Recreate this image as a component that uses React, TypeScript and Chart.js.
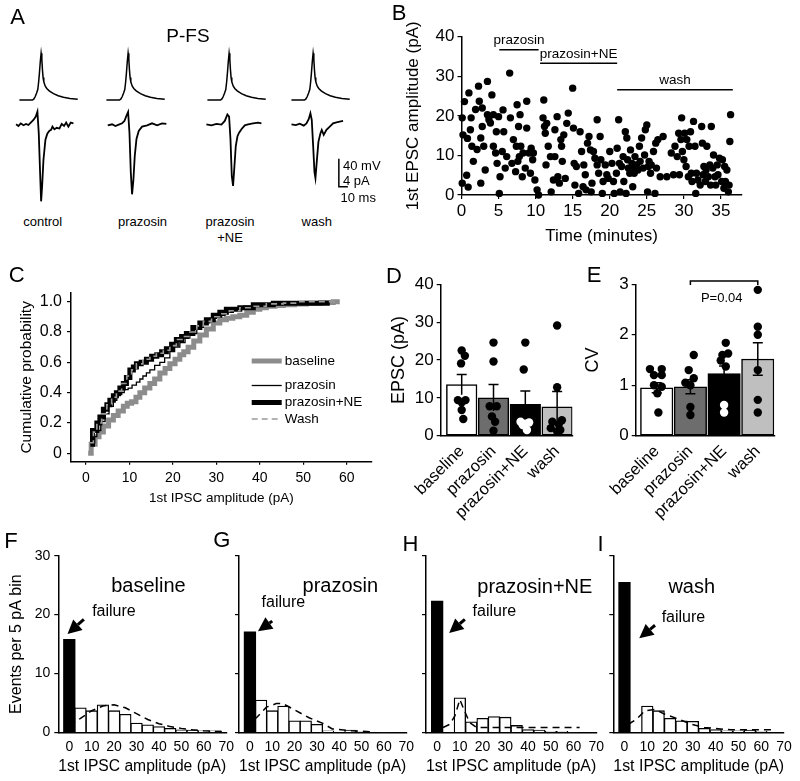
import React, { useEffect, useRef } from "react";
import { Chart, registerables } from "chart.js";

Chart.register(...registerables);

const FONT = "'Liberation Sans', Arial, Helvetica, sans-serif";
Chart.defaults.font.family = FONT;
Chart.defaults.color = "#000";

// ---------------- Panel A: example traces ----------------
const traceLabels = ["control", "prazosin", "prazosin", "wash"];
const apTime = [-24.1, -9.5, -8, -6.5, -5, -3.7, -2.8, -1.9, -0.9, 0, 0.8, 1.5, 2.2, 3, 4.5, 6.3, 9, 13.7, 19, 24.8, 32, 40.7];
const apMv = [0, 0, 1.5, 5, 10, 15, 25, 38, 55, 66.7, 58, 43, 32, 26, 20, 16.5, 13, 9, 6, 3.8, 2, 1];
const epscControlT = [-27.8, -25.2, -22.6, -19.6, -16.7, -14.1, -11.5, -8.5, -5.9, -4.1, -2.6, -1.1, 0, 1.1, 2.6, 4.8, 7, 9.3, 11.1, 12.6, 14.8, 17.4, 20.4, 22.9, 25.5, 27.8, 30.3, 32.9, 35.9];
const epscControlPa = [0, -0.24, 0.14, -0.14, 0.05, -0.1, 0.24, 0.62, 1.1, 1.8, -1.3, -7, -11, -8.9, -5.1, -2.2, -1.3, -0.9, -0.8, -0.33, -0.7, -0.5, -0.6, 0.05, -0.24, 0.24, -0.33, 0.24, 0.14];
const epscPrazT = [-22.6, -17.8, -14.1, -10.4, -6.7, -4.1, -1.9, 0, 1.5, 3, 4.4, 5.9, 7.4, 9.3, 11.8, 15.5, 21.1, 26.6, 32.2, 37.7, 42.5];
const epscPrazPa = [-0.14, 0, -0.24, -0.05, 0.14, 0.48, 1.2, 1.76, -1.2, -6.9, -10, -7.9, -4.5, -2.1, -0.95, -0.33, -0.14, 0.14, -0.14, 0.14, 0.05];
const epscNET = [-25.2, -19.6, -14.1, -8.5, -4.8, -1.9, 0, 1.5, 3, 4.4, 5.9, 7.4, 9.3, 11.1, 13.7, 17.4, 21.1, 26.6, 32.2, 35.9];
const epscNEPa = [0, -0.14, 0.05, -0.05, 0.48, 1.4, 1.1, -2.1, -7.4, -8.8, -6, -3.1, -1.7, -1.2, -0.7, -0.14, 0, 0.14, 0.24, 0.14];
const epscWashT = [-24, -19.2, -14.8, -10.4, -7.4, -4.8, -3, -1.5, 0, 1.5, 2.6, 4.1, 5.9, 8.1, 9.6, 11.8, 14.8, 18.5, 22.2, 25.9, 29.6, 33.3];
const epscWashPa = [0, -0.1, 0.1, -0.19, 0.14, 0.76, 1.57, 0.62, -2.95, -6.8, -7.7, -5.3, -2.5, -1.3, -0.8, -1.5, -0.8, -0.33, 0.14, 0.29, 0.38, 0.48];
const scaleBarMs = 10;
const scaleBarMv = 40;

// ---------------- Panel B: time course ----------------
const bTime = [0.1,0.2,0.4,0.1,0.7,0.9,0.8,1,1.2,1.3,1.4,1.6,1.9,2.1,2.3,2.4,2.6,2.6,2.8,2.8,3,3.2,3.5,3.5,3.7,3.9,4.1,4.3,4.3,4.6,4.7,4.8,5,5.1,5.2,5.5,5.6,5.7,5.9,6.1,6.5,6.6,6.8,7,7.3,7.4,7.5,7.6,7.7,7.8,7.9,8,8.2,8.3,8.6,8.8,8.8,9.1,9.3,9.4,9.6,9.7,9.9,10.2,10.4,11,11.1,11.2,11.3,11.4,11.5,11.7,12,12.1,12.4,12.6,12.6,12.9,13,13.2,13.4,13.5,13.6,13.8,14,14.2,14.4,15,15.1,15.2,15.3,15.5,15.8,16,16.2,16.4,16.5,16.7,16.8,17,17.2,17.4,17.5,17.6,17.8,18,18.3,18.3,18.5,18.7,18.8,19,19.1,19.4,19.6,19.8,20,20.3,20.5,20.6,20.9,21,21.2,21.3,21.4,21.6,21.8,21.9,22.1,22.2,22.3,22.4,22.5,22.7,22.8,23,23.1,23.2,23.3,23.4,23.6,23.8,24,24.1,24.3,24.5,24.7,24.8,25,25.1,25.2,25.3,25.5,25.6,25.9,26.1,26.2,26.3,26.5,26.8,27.2,27.7,28.3,28.6,28.8,29.1,29.3,29.4,29.6,29.7,29.8,30,30.1,30.3,30.4,30.6,30.7,30.9,31,31.1,31.3,31.5,31.6,31.7,31.9,32.2,32.4,32.5,32.6,32.7,32.9,33,33.1,33.3,33.5,33.6,33.7,33.9,34,34.2,34.3,34.5,34.6,34.8,35.1,35.2,35.4,35.5,35.6,35.8,36,36.1,36.2,36.3];
const bAmp = [19.5,15.2,23.6,3,5,2,14.3,25.8,16.5,19.5,12.3,8.5,21.6,11.5,27.5,23.7,14.4,3,17.3,22,12.3,6.3,28.7,20.3,19,18.2,25.3,20.3,12.3,10.6,16,8,19.8,0.4,4.6,11,21.5,16,6.8,9.7,30.8,19.5,8,14,5.9,12.3,22.8,8.5,17.3,9.7,20.3,12.3,4.6,10.6,6.8,23.7,16.9,10.6,5.5,11.8,8.9,10.6,3.8,1.3,0,19.5,24,17.3,15.6,7.6,18.1,12.3,9.7,0.8,3.8,16.5,9.7,19.8,4.6,3,14,12.3,8.5,15.2,4.2,18.1,20.7,27,16.9,8,2.5,7.2,0.4,16,11,2.1,7.6,5.1,1.3,13.1,14.8,11.4,0.8,3,11,9.3,19,7.6,5.5,14.8,8.9,0.4,3.4,7.6,5.1,4.2,11,8,3.4,0.4,5.5,11.8,19,8,0.8,7.2,9.7,3.4,16,0.4,14.4,8.9,6.8,5.5,11.4,8,2.1,7.2,5.5,9.7,7.6,6.3,12.3,8.5,14.4,6.8,10.1,16.5,17.7,0.8,7.2,8.5,5.5,7.6,11,0.4,13.1,6.8,14,4.6,14.8,4.6,10.6,5.1,12.3,9.7,15.6,5.1,14,19.5,11,8.9,15.6,7.2,14,4.6,12.3,16,5.5,3.4,18.6,12.3,0.4,5.5,3.8,2.5,17.3,13.1,5.1,7.2,3.4,6.3,12.3,4.6,7.6,2.5,17.3,6.8,10.1,4.6,2.5,7.6,5.1,9.3,3.4,8.9,1.7,7.2,3.4,6.3,0.8,2.5,13.5,20.3];
const drugLabels = ["prazosin", "prazosin+NE", "wash"];
const drugStart = [5.1, 10.6, 21.0];
const drugEnd = [10.4, 21.0, 36.6];
const drugLevel = [36.7, 33.3, 26.6];
const bTicksX = [0, 5, 10, 15, 20, 25, 30, 35];
const bTicksY = [0, 10, 20, 30, 40];

// ---------------- Panel C: cumulative distributions ----------------
const cdfBaselineX = [0.5, 1.2, 2.1, 3, 4, 5.2, 6.3, 7.4, 8.6, 9.5, 10.5, 11.5, 12.4, 13.5, 14.7, 15.8, 17, 18.2, 19.3, 20.5, 21.6, 22.5, 23.5, 24.8, 26.2, 27.7, 29.3, 30.8, 32.3, 33.8, 35.4, 37, 38.5, 40, 41.5, 43.5, 45.4, 48, 50.7, 54, 56.9, 58.4];
const cdfBaselineY = [0, 0.06, 0.11, 0.14, 0.18, 0.22, 0.25, 0.28, 0.31, 0.33, 0.34, 0.37, 0.4, 0.43, 0.46, 0.49, 0.53, 0.56, 0.59, 0.62, 0.65, 0.67, 0.7, 0.74, 0.78, 0.82, 0.86, 0.88, 0.89, 0.9, 0.91, 0.93, 0.95, 0.96, 0.97, 0.975, 0.98, 0.985, 0.99, 0.995, 1.0, 1.0];
const cdfPrazX = [1.3, 2, 2.5, 3.4, 4.4, 5.3, 6.3, 7.1, 7.9, 8.8, 9.7, 10.6, 11.6, 12.4, 13.1, 13.9, 14.7, 15.8, 17, 18.1, 19.3, 20.4, 21.6, 22.8, 23.9, 25.5, 27, 28.5, 30, 32, 33.9, 36.2, 38.5, 45.4, 55.4];
const cdfPrazY = [0.07, 0.11, 0.15, 0.21, 0.26, 0.31, 0.35, 0.38, 0.4, 0.42, 0.43, 0.45, 0.47, 0.49, 0.51, 0.53, 0.55, 0.58, 0.6, 0.63, 0.67, 0.7, 0.73, 0.76, 0.79, 0.83, 0.86, 0.89, 0.91, 0.93, 0.95, 0.97, 0.98, 0.985, 0.985];
const cdfNEX = [1.0, 1.5, 2.5, 3.2, 4, 4.8, 5.5, 6.3, 7, 7.8, 8.6, 9.3, 10.1, 10.9, 11.6, 12.7, 13.9, 15.1, 16.3, 17.4, 18.5, 19.7, 20.8, 22, 23.1, 24.6, 26.2, 27.7, 29.3, 30.8, 32.3, 35.4, 38.5, 43.1, 49.2, 56.1];
const cdfNEY = [0.06, 0.15, 0.2, 0.24, 0.29, 0.32, 0.35, 0.38, 0.4, 0.43, 0.46, 0.5, 0.55, 0.57, 0.59, 0.6, 0.62, 0.64, 0.65, 0.67, 0.69, 0.72, 0.75, 0.77, 0.79, 0.83, 0.86, 0.88, 0.91, 0.93, 0.95, 0.96, 0.98, 0.99, 0.99, 0.99];
const cdfWashX = [0.9, 1.7, 2.5, 3.6, 4.8, 5.9, 7, 8.2, 9.4, 10.5, 11.6, 13.1, 14.7, 16.2, 17.8, 19.3, 20.8, 22.3, 23.9, 25.5, 27, 28.9, 30.8, 33, 35.4, 38.5, 41.5, 45.4, 49.2, 54, 58];
const cdfWashY = [0.07, 0.14, 0.2, 0.26, 0.32, 0.37, 0.41, 0.46, 0.51, 0.55, 0.59, 0.62, 0.64, 0.66, 0.68, 0.71, 0.75, 0.77, 0.8, 0.84, 0.87, 0.9, 0.92, 0.94, 0.96, 0.97, 0.985, 0.99, 1.0, 1.0, 1.0];
const cdfLegend = ["baseline", "prazosin", "prazosin+NE", "Wash"];
const cTicksX = [0, 10, 20, 30, 40, 50, 60];
const cTicksY = [0, 0.2, 0.4, 0.6, 0.8, 1.0];

// ---------------- Panels D, E: summary bars ----------------
const conditions = ["baseline", "prazosin", "prazosin+NE", "wash"];
const epscMean = [13.5, 10.0, 8.3, 7.6];
const epscSem = [2.7, 3.5, 3.5, 4.1];
const epscCellsBaseline = [22.5, 21.1, 19.1, 9.4, 9.4, 8.8, 6.8, 4.4];
const epscCellsPraz = [24.6, 19.6, 7.8, 7.8, 5.1, 3.7, 1.3];
const epscCellsNE = [24.6, 17.5, 3.7, 3.5, 3.2, 2.8, 1.5];
const epscCellsWash = [29.1, 12.8, 4.1, 3.7, 3.0, 2.0, 1.5, 1.1];
const epscJitter = [
  [0, 0.1, -0.02, -0.12, 0.12, 0, 0, 0.05],
  [0, 0, -0.12, 0.1, -0.05, 0.05, 0],
  [0, -0.05, -0.15, 0.12, 0, -0.08, 0.05],
  [0, 0, 0.15, -0.15, 0.05, -0.2, 0.1, 0],
];
const cvMean = [0.95, 0.97, 1.23, 1.52];
const cvSem = [0.1, 0.14, 0.15, 0.32];
const cvCellsBaseline = [1.32, 1.32, 1.2, 1.2, 1.0, 0.97, 0.84, 0.46];
const cvCellsPraz = [1.6, 1.3, 1.14, 1.05, 1.0, 0.57, 0.41];
const cvCellsNE = [1.84, 1.63, 1.6, 1.49, 1.37, 0.61, 0.46];
const cvCellsWash = [2.89, 2.16, 2.0, 1.3, 0.71, 0.46];
const cvJitter = [
  [-0.2, 0.15, -0.08, 0.15, -0.08, 0.15, 0.02, 0.05],
  [0.1, -0.05, 0.1, -0.15, 0, 0, 0],
  [0.05, 0.12, -0.05, -0.1, 0.05, 0, 0],
  [0, 0, 0, 0, 0, 0],
];
const dTicksY = [0, 10, 20, 30, 40];
const eTicksY = [0, 1, 2, 3];
const pValueText = "P=0.04";

// ---------------- Panels F-I: histograms ----------------
const histBinCenters = [5, 10, 15, 20, 25, 30, 35, 40, 45, 50, 55, 60, 65];
const histTicksX = [0, 10, 20, 30, 40, 50, 60, 70];
const histTicksY = [0, 10, 20, 30];
const failBaseline = 15.8;
const failPraz = 17.1;
const failNE = 22.3;
const failWash = 25.5;
const countsBaseline = [4.2, 3.7, 4.7, 3.7, 3.1, 1.6, 1.3, 1.0, 0.7, 0.45, 0.4, 0.28, 0.28];
const countsPraz = [5.5, 3.7, 4.5, 2.0, 2.0, 1.4, 0.3, 0, 0.4, 0.2, 0, 0.1, 0];
const countsNE = [0, 5.9, 1.8, 2.4, 2.7, 2.6, 1.2, 0.5, 0.4, 0.2, 0.2, 0.1, 0];
const countsWash = [0, 4.5, 3.7, 2.4, 2.0, 1.9, 0.7, 0.5, 0.3, 0.3, 0.4, 0.2, 0];
const fitBaselineX = [0, 5, 10, 15, 20, 25, 30, 35, 40, 45, 50, 55, 60, 65, 70];
const fitBaselineY = [1.1, 2.4, 3.7, 4.5, 4.7, 4.2, 3.2, 2.2, 1.5, 1.0, 0.7, 0.45, 0.3, 0.2, 0.15];
const fitPrazX = [-2.2, 2.9, 7.4, 11.8, 14.7, 19.2, 26.5, 32.4, 36.9, 45.7, 56];
const fitPrazY = [1.1, 2.5, 4.3, 4.9, 4.9, 4.0, 2.5, 1.6, 0.6, 0.3, 0.1];
const fitNEX = [2.6, 5.6, 7.8, 10, 12, 14.3, 17.3, 62.7];
const fitNEY = [0.85, 1.4, 2.8, 5.6, 3.7, 1.7, 0.85, 0.85];
const fitWashX = [1.7, 5.4, 9, 13.3, 17.7, 23.5, 29.3, 35, 46.7, 64.8];
const fitWashY = [1.4, 2.3, 3.7, 3.9, 3.1, 2.3, 1.4, 0.85, 0.45, 0.45];
const histTitles = ["baseline", "prazosin", "prazosin+NE", "wash"];

// ---------------- helpers ----------------
type Box = { L: number; T: number; W: number; H: number };
type Area = { x0: number; y0: number; x1: number; y1: number };

function ChartCanvas({ box, make }: { box: Box; make: () => any }) {
  const ref = useRef<HTMLCanvasElement | null>(null);
  useEffect(() => {
    if (!ref.current) return;
    const chart = new Chart(ref.current, make());
    return () => chart.destroy();
  }, []);
  return (
    <canvas
      ref={ref}
      width={box.W}
      height={box.H}
      style={{ position: "absolute", left: box.L, top: box.T, width: box.W, height: box.H }}
    />
  );
}

function Label({ x, y, size, children, anchor = "center" }: any) {
  const tx = anchor === "center" ? "-50%" : anchor === "left" ? "0" : "-100%";
  return (
    <div
      style={{
        position: "absolute",
        left: x,
        top: y,
        transform: `translate(${tx}, -50%)`,
        fontSize: size,
        lineHeight: 1,
        whiteSpace: "nowrap",
        color: "#000",
        fontFamily: FONT,
      }}
    >
      {children}
    </div>
  );
}

function baseOptions(box: Box, area: Area) {
  return {
    responsive: false,
    maintainAspectRatio: false,
    animation: false,
    devicePixelRatio: 1,
    events: [],
    layout: { padding: { left: 0, top: area.y0 - box.T, right: box.L + box.W - area.x1, bottom: 0 } },
    plugins: { legend: { display: false }, tooltip: { enabled: false }, title: { display: false } },
  };
}

const BORDER = { display: true, color: "#000", width: 1.5 };

function yAxis(box: Box, area: Area, o: any) {
  return {
    type: "linear",
    position: "left",
    min: o.min,
    max: o.max,
    afterFit: (s: any) => {
      s.width = area.x0 - box.L;
    },
    afterBuildTicks: (s: any) => {
      s.ticks = o.ticks.map((v: number) => ({ value: v }));
    },
    border: BORDER,
    grid: { display: true, drawOnChartArea: false, drawTicks: true, tickLength: o.tickLength ?? 4, color: "#000", lineWidth: 1.2 },
    ticks: {
      display: o.labels !== false,
      autoSkip: false,
      font: { size: o.size ?? 14 },
      color: "#000",
      padding: o.pad ?? 4,
      callback: o.fmt ?? ((v: number) => String(v)),
    },
    title: o.title
      ? { display: true, text: o.title, color: "#000", font: { size: o.titleSize }, padding: { top: o.titlePad, bottom: 0 } }
      : { display: false },
  };
}

function xAxis(box: Box, area: Area, o: any) {
  return {
    type: "linear",
    position: "bottom",
    offset: false,
    min: o.min,
    max: o.max,
    afterFit: (s: any) => {
      s.height = box.T + box.H - area.y1;
    },
    afterBuildTicks: (s: any) => {
      s.ticks = o.ticks.map((v: number) => ({ value: v }));
    },
    border: BORDER,
    grid: {
      display: o.tickLength ? true : false,
      offset: false,
      drawOnChartArea: false,
      drawTicks: !!o.tickLength,
      tickLength: o.tickLength || 0,
      color: "#000",
      lineWidth: 1.2,
    },
    ticks: {
      autoSkip: false,
      font: { size: o.size ?? 14 },
      color: "#000",
      padding: o.pad ?? 4,
      minRotation: o.rotation ?? 0,
      maxRotation: o.rotation ?? 0,
      callback: o.fmt ?? ((v: number) => String(v)),
    },
    title: o.title
      ? { display: true, text: o.title, color: "#000", font: { size: o.titleSize }, padding: { top: 0, bottom: o.titlePad } }
      : { display: false },
  };
}

function drawText(ctx: any, s: string, x: number, y: number, size: number, align = "center") {
  ctx.save();
  ctx.font = `${size}px ${FONT}`;
  ctx.fillStyle = "#000";
  ctx.textAlign = align;
  ctx.textBaseline = "middle";
  ctx.fillText(s, x, y);
  ctx.restore();
}

const pts = (xs: number[], ys: number[]) => xs.map((x, i) => ({ x, y: ys[i] }));

// ---------------- Panel A ----------------
const TRACE_X = { min: -29, max: 43.2 };
const TRACE_V = { min: -157.14, max: 78.57 };
const TRACE_I = { min: -12.24, max: 11.33 };

const scaleBarPlugin = {
  id: "scalebar",
  afterDraw(chart: any) {
    const { ctx, scales } = chart;
    const t0 = 28.6;
    const v0 = -123.9;
    const px = scales.x.getPixelForValue(t0);
    const py = scales.v.getPixelForValue(v0);
    const pyTop = scales.v.getPixelForValue(v0 + scaleBarMv);
    const pxR = scales.x.getPixelForValue(t0 + scaleBarMs);
    ctx.save();
    ctx.strokeStyle = "#000";
    ctx.lineWidth = 1.5;
    ctx.beginPath();
    ctx.moveTo(px, pyTop);
    ctx.lineTo(px, py);
    ctx.lineTo(pxR, py);
    ctx.stroke();
    ctx.restore();
  },
};

function traceConfig(epT: number[], epA: number[], withBar: boolean) {
  return {
    type: "line",
    data: {
      datasets: [
        { data: pts(apTime, apMv), yAxisID: "v", borderColor: "#000", borderWidth: 1.5, pointRadius: 0, tension: 0, clip: false },
        { data: pts(epT, epA), yAxisID: "i", borderColor: "#000", borderWidth: 1.8, pointRadius: 0, tension: 0, clip: false },
      ],
    },
    options: {
      responsive: false,
      animation: false,
      devicePixelRatio: 1,
      events: [],
      layout: { padding: 0 },
      plugins: { legend: { display: false }, tooltip: { enabled: false } },
      scales: {
        x: { type: "linear", display: false, ...TRACE_X },
        y: { type: "linear", display: false },
        v: { type: "linear", display: false, ...TRACE_V },
        i: { type: "linear", display: false, ...TRACE_I },
      },
    },
    plugins: withBar ? [scaleBarPlugin] : [],
  };
}

const tracePeaks = [41, 127.7, 229.3, 313.3];
const traceBox = (i: number): Box => ({ L: tracePeaks[i] - 26.1, T: 45, W: 65, H: 165 });

// ---------------- Panel B ----------------
const boxB: Box = { L: 395, T: 0, W: 370, H: 250 };
const areaB: Area = { x0: 461.5, y0: 36.7, x1: 741.7, y1: 195 };

function configB() {
  return {
    type: "scatter",
    data: {
      datasets: [
        { data: pts(bTime, bAmp), pointRadius: 3.7, backgroundColor: "#000", borderWidth: 0, clip: false },
      ],
    },
    options: {
      ...baseOptions(boxB, areaB),
      scales: {
        x: xAxis(boxB, areaB, { min: 0, max: 37.8, ticks: bTicksX, size: 17, tickLength: 4, pad: 2, title: "Time (minutes)", titleSize: 17, titlePad: 3.8 }),
        y: yAxis(boxB, areaB, { min: 0, max: 40, ticks: bTicksY, size: 17, tickLength: 4, pad: 3, title: "1st EPSC amplitude (pA)", titleSize: 17, titlePad: 7.8 }),
      },
    },
    plugins: [
      {
        id: "drugs",
        afterDraw(chart: any) {
          const { ctx, scales } = chart;
          drugLabels.forEach((lab, i) => {
            const x0 = scales.x.getPixelForValue(drugStart[i]);
            const x1 = scales.x.getPixelForValue(drugEnd[i]);
            const py = scales.y.getPixelForValue(drugLevel[i]);
            ctx.save();
            ctx.strokeStyle = "#000";
            ctx.lineWidth = 1.5;
            ctx.beginPath();
            ctx.moveTo(x0, py);
            ctx.lineTo(x1, py);
            ctx.stroke();
            ctx.restore();
            drawText(ctx, lab, (x0 + x1) / 2, py - 9, 13.5);
          });
        },
      },
    ],
  };
}

// ---------------- Panel C ----------------
const boxC: Box = { L: 0, T: 268, W: 390, H: 242 };
const areaC: Area = { x0: 71, y0: 293, x1: 371.7, y1: 461.7 };
const cStyles = [
  { color: "#8c8c8c", width: 5, dash: [] as number[] },
  { color: "#000", width: 1.3, dash: [] as number[] },
  { color: "#000", width: 5, dash: [] as number[] },
  { color: "#9a9a9a", width: 1.6, dash: [6, 4] },
];

function configC() {
  const series = [
    pts(cdfBaselineX, cdfBaselineY),
    pts(cdfPrazX, cdfPrazY),
    pts(cdfNEX, cdfNEY),
    pts(cdfWashX, cdfWashY),
  ];
  const orders = [4, 2, 3, 1];
  return {
    type: "line",
    data: {
      datasets: series.map((d, i) => ({
        data: d,
        stepped: true,
        borderColor: cStyles[i].color,
        borderWidth: cStyles[i].width,
        borderDash: cStyles[i].dash,
        pointRadius: 0,
        order: orders[i],
        clip: false,
      })),
    },
    options: {
      ...baseOptions(boxC, areaC),
      scales: {
        x: xAxis(boxC, areaC, { min: -3.45, max: 65.75, ticks: cTicksX, size: 14, tickLength: 3, pad: 5, title: "1st IPSC amplitude (pA)", titleSize: 13.5, titlePad: 3.9 }),
        y: yAxis(boxC, areaC, {
          min: -0.055,
          max: 1.057,
          ticks: cTicksY,
          size: 16,
          tickLength: 4,
          pad: 5,
          fmt: (v: number) => (v === 0 ? "0" : v.toFixed(1)),
          title: "Cumulative probability",
          titleSize: 15.5,
          titlePad: 17.7,
        }),
      },
    },
    plugins: [
      {
        id: "cLegend",
        afterDraw(chart: any) {
          const { ctx, chartArea } = chart;
          const rows = [68, 92.5, 109.5, 126];
          cdfLegend.forEach((lab, i) => {
            const y = chartArea.top + rows[i];
            const x0 = chartArea.left + 180.7;
            ctx.save();
            ctx.strokeStyle = cStyles[i].color;
            ctx.lineWidth = cStyles[i].width;
            ctx.setLineDash(cStyles[i].dash);
            ctx.beginPath();
            ctx.moveTo(x0, y);
            ctx.lineTo(x0 + 30, y);
            ctx.stroke();
            ctx.restore();
            drawText(ctx, lab, x0 + 33, y, 13.5, "left");
          });
        },
      },
    ],
  };
}

// ---------------- Panels D & E ----------------
const barFill = ["#ffffff", "#6d6d6d", "#000000", "#bfbfbf"];

function summaryConfig(box: Box, area: Area, o: any) {
  const cells = o.cells as number[][];
  const dots: any[] = [];
  const dotColors: string[] = [];
  cells.forEach((arr, ci) => {
    arr.forEach((v, k) => {
      dots.push({ x: ci + o.jitter[ci][k], y: v });
      dotColors.push(barFill[ci] === "#000000" && v < o.mean[ci] ? "#fff" : "#000");
    });
  });
  return {
    type: "bar",
    data: {
      datasets: [
        {
          type: "bar",
          data: o.mean.map((m: number, i: number) => ({ x: i, y: m })),
          backgroundColor: barFill,
          borderColor: "#000",
          borderWidth: 1.5,
          borderSkipped: false,
          barThickness: o.barW,
          grouped: false,
          order: 2,
        },
        {
          type: "scatter",
          data: dots,
          pointRadius: 4.2,
          pointBackgroundColor: dotColors,
          pointBorderWidth: 0,
          order: 1,
          clip: false,
        },
      ],
    },
    options: {
      ...baseOptions(box, area),
      scales: {
        x: xAxis(box, area, {
          min: o.xmin,
          max: o.xmax,
          ticks: [0, 1, 2, 3],
          size: 16.5,
          tickLength: 0,
          pad: 6,
          rotation: 45,
          fmt: (v: number) => conditions[v],
        }),
        y: yAxis(box, area, { min: 0, max: o.ymax, ticks: o.yticks, size: 17, tickLength: 4, pad: 3, title: o.title, titleSize: 18, titlePad: o.titlePad }),
      },
    },
    plugins: [
      {
        id: "errbars",
        afterDatasetDraw(chart: any, args: any) {
          if (args.index !== 0) return;
          const { ctx, scales } = chart;
          ctx.save();
          ctx.strokeStyle = "#000";
          ctx.lineWidth = 1.5;
          o.mean.forEach((m: number, i: number) => {
            const px = scales.x.getPixelForValue(i);
            const top = scales.y.getPixelForValue(m + o.sem[i]);
            const bot = scales.y.getPixelForValue(m - o.sem[i]);
            ctx.beginPath();
            ctx.moveTo(px, bot);
            ctx.lineTo(px, top);
            ctx.moveTo(px - 5, top);
            ctx.lineTo(px + 5, top);
            if (o.lowerCap) {
              ctx.moveTo(px - 5, bot);
              ctx.lineTo(px + 5, bot);
            }
            ctx.stroke();
          });
          ctx.restore();
        },
      },
      ...(o.extra ? [o.extra] : []),
    ],
  };
}

const boxD: Box = { L: 385, T: 265, W: 195, H: 260 };
const areaD: Area = { x0: 440.7, y0: 284.3, x1: 572.4, y1: 435.7 };
const boxE: Box = { L: 580, T: 265, W: 205, H: 260 };
const areaE: Area = { x0: 635.7, y0: 284.3, x1: 774.3, y1: 435.7 };

function configD() {
  return summaryConfig(boxD, areaD, {
    mean: epscMean,
    sem: epscSem,
    cells: [epscCellsBaseline, epscCellsPraz, epscCellsNE, epscCellsWash],
    jitter: epscJitter,
    xmin: -0.66,
    xmax: 3.48,
    ymax: 40,
    yticks: dTicksY,
    barW: 30.6,
    title: "EPSC (pA)",
    titlePad: 3.2,
    lowerCap: false,
  });
}

function configE() {
  return summaryConfig(boxE, areaE, {
    mean: cvMean,
    sem: cvSem,
    cells: [cvCellsBaseline, cvCellsPraz, cvCellsNE, cvCellsWash],
    jitter: cvJitter,
    xmin: -0.623,
    xmax: 3.49,
    ymax: 3,
    yticks: eTicksY,
    barW: 32.5,
    title: "CV",
    titlePad: 2.2,
    lowerCap: true,
    extra: {
      id: "bracket",
      afterDraw(chart: any) {
        const { ctx, scales } = chart;
        const x1 = scales.x.getPixelForValue(1);
        const x3 = scales.x.getPixelForValue(3);
        const yl = scales.y.getPixelForValue(3.065);
        const yd = scales.y.getPixelForValue(2.985);
        ctx.save();
        ctx.strokeStyle = "#000";
        ctx.lineWidth = 1.5;
        ctx.beginPath();
        ctx.moveTo(x1, yd);
        ctx.lineTo(x1, yl);
        ctx.lineTo(x3, yl);
        ctx.lineTo(x3, yd);
        ctx.stroke();
        ctx.restore();
        drawText(ctx, pValueText, scales.x.getPixelForValue(1.93), scales.y.getPixelForValue(2.72), 13);
      },
    },
  });
}

// ---------------- Panels F-I ----------------
const HIST_T = 538;
const HIST_H = 243;
const histArea = (x0: number): Area => ({ x0, y0: 555.7, x1: x0 + 74.9 * 2.28, y1: 732.5 });

function histConfig(box: Box, area: Area, p: any) {
  return {
    type: "bar",
    data: {
      datasets: [
        {
          type: "line",
          data: pts(p.fitX, p.fitY),
          borderColor: "#000",
          borderWidth: 1.5,
          borderDash: [7, 5],
          pointRadius: 0,
          order: 0,
          clip: false,
        },
        {
          type: "bar",
          data: histBinCenters.map((x, i) => ({ x, y: p.counts[i] > 0 ? p.counts[i] : null })),
          backgroundColor: "#fff",
          borderColor: "#000",
          borderWidth: 1.3,
          barThickness: 11.6,
          grouped: false,
          order: 1,
        },
        {
          type: "bar",
          data: [{ x: 0, y: p.failure }],
          backgroundColor: "#000",
          borderWidth: 0,
          barThickness: 11.6,
          grouped: false,
          order: 2,
        },
      ],
    },
    options: {
      ...baseOptions(box, area),
      scales: {
        x: xAxis(box, area, { min: -4.9, max: 70, ticks: histTicksX, size: 14, tickLength: 0, pad: 6, title: "1st IPSC amplitude (pA)", titleSize: 16, titlePad: 4.7 }),
        y: yAxis(box, area, {
          min: 0,
          max: 30,
          ticks: histTicksY,
          size: 14,
          tickLength: 4,
          pad: 4,
          labels: p.showY,
          title: p.showY ? "Events per 5 pA bin" : null,
          titleSize: 16,
          titlePad: 7.1,
        }),
      },
    },
    plugins: [
      {
        id: "failure",
        afterDraw(chart: any) {
          const { ctx, scales } = chart;
          const a = p.note;
          const tx = scales.x.getPixelForValue(a.tailX);
          const ty = scales.y.getPixelForValue(a.tailY);
          const hx = scales.x.getPixelForValue(a.tipX);
          const hy = scales.y.getPixelForValue(a.tipY);
          const ang = Math.atan2(hy - ty, hx - tx);
          const len = 14;
          const half = 7;
          const bx = hx - len * Math.cos(ang);
          const by = hy - len * Math.sin(ang);
          ctx.save();
          ctx.strokeStyle = "#000";
          ctx.fillStyle = "#000";
          ctx.lineWidth = 3;
          ctx.beginPath();
          ctx.moveTo(tx, ty);
          ctx.lineTo(bx, by);
          ctx.stroke();
          ctx.beginPath();
          ctx.moveTo(hx, hy);
          ctx.lineTo(bx + half * Math.sin(ang), by - half * Math.cos(ang));
          ctx.lineTo(bx - half * Math.sin(ang), by + half * Math.cos(ang));
          ctx.closePath();
          ctx.fill();
          ctx.restore();
          drawText(ctx, "failure", scales.x.getPixelForValue(a.textX), scales.y.getPixelForValue(a.textY), 16, "left");
          drawText(ctx, p.title, scales.x.getPixelForValue(a.titleX), scales.y.getPixelForValue(a.titleY), 20);
        },
      },
    ],
  };
}

const boxF: Box = { L: 0, T: HIST_T, W: 240, H: HIST_H };
const boxG: Box = { L: 195, T: HIST_T, W: 225, H: HIST_H };
const boxH: Box = { L: 385, T: HIST_T, W: 225, H: HIST_H };
const boxI: Box = { L: 575, T: HIST_T, W: 225, H: HIST_H };

const histPanels = [
  {
    box: boxF,
    area: histArea(58.3),
    p: {
      failure: failBaseline, counts: countsBaseline, fitX: fitBaselineX, fitY: fitBaselineY, title: histTitles[0], showY: true,
      note: { tailX: 6.5, tailY: 19.2, tipX: -0.8, tipY: 16.7, textX: 10.2, textY: 20.5, titleX: 35.3, titleY: 24.7 },
    },
  },
  {
    box: boxG,
    area: histArea(239),
    p: {
      failure: failPraz, counts: countsPraz, fitX: fitPrazX, fitY: fitPrazY, title: histTitles[1], showY: false,
      note: { tailX: 10, tailY: 18.9, tipX: 3.6, tipY: 17.2, textX: 5.2, textY: 22, titleX: 40.5, titleY: 24.7 },
    },
  },
  {
    box: boxH,
    area: histArea(426),
    p: {
      failure: failNE, counts: countsNE, fitX: fitNEX, fitY: fitNEY, title: histTitles[2], showY: false,
      note: { tailX: 12.2, tailY: 19.2, tipX: 5.3, tipY: 16.9, textX: 15.6, textY: 20.5, titleX: 43, titleY: 24.6 },
    },
  },
  {
    box: boxI,
    area: histArea(613.3),
    p: {
      failure: failWash, counts: countsWash, fitX: fitWashX, fitY: fitWashY, title: histTitles[3], showY: false,
      note: { tailX: 13.4, tailY: 18.2, tipX: 6.5, tipY: 16, textX: 16.3, textY: 19.5, titleX: 29.5, titleY: 24.6 },
    },
  },
];

// ---------------- App ----------------
export default function App() {
  const traceSets = [
    [epscControlT, epscControlPa],
    [epscPrazT, epscPrazPa],
    [epscNET, epscNEPa],
    [epscWashT, epscWashPa],
  ];
  const labelX = [42.7, 142.5, 230, 316.7];
  return (
    <div
      style={{
        position: "absolute",
        left: 0,
        top: 0,
        width: 800,
        height: 781,
        background: "#fff",
        overflow: "hidden",
        fontFamily: FONT,
      }}
    >
      {traceSets.map((s, i) => (
        <ChartCanvas key={"tr" + i} box={traceBox(i)} make={() => traceConfig(s[0], s[1], i === 3)} />
      ))}
      <ChartCanvas box={boxB} make={configB} />
      <ChartCanvas box={boxC} make={configC} />
      <ChartCanvas box={boxD} make={configD} />
      <ChartCanvas box={boxE} make={configE} />
      {histPanels.map((h, i) => (
        <ChartCanvas key={"h" + i} box={h.box} make={() => histConfig(h.box, h.area, h.p)} />
      ))}

      {/* Panel A texts */}
      <Label x={188} y={35} size={19}>P-FS</Label>
      {traceLabels.map((t, i) => (
        <Label key={"tl" + i} x={labelX[i]} y={221} size={13}>{t}</Label>
      ))}
      <Label x={230} y={237} size={13}>+NE</Label>
      <Label x={343} y={165} size={13} anchor="left">40 mV</Label>
      <Label x={343} y={180} size={13} anchor="left">4 pA</Label>
      <Label x={340.5} y={197} size={13} anchor="left">10 ms</Label>

      {/* Panel letters */}
      <Label x={17.5} y={16.5} size={22}>A</Label>
      <Label x={399} y={13} size={22}>B</Label>
      <Label x={16.7} y={275} size={22}>C</Label>
      <Label x={394} y={276} size={22}>D</Label>
      <Label x={594} y={275} size={22}>E</Label>
      <Label x={11} y={540.5} size={22}>F</Label>
      <Label x={221.7} y={540} size={22}>G</Label>
      <Label x={410.5} y={544} size={22}>H</Label>
      <Label x={600.5} y={544} size={22}>I</Label>
    </div>
  );
}
